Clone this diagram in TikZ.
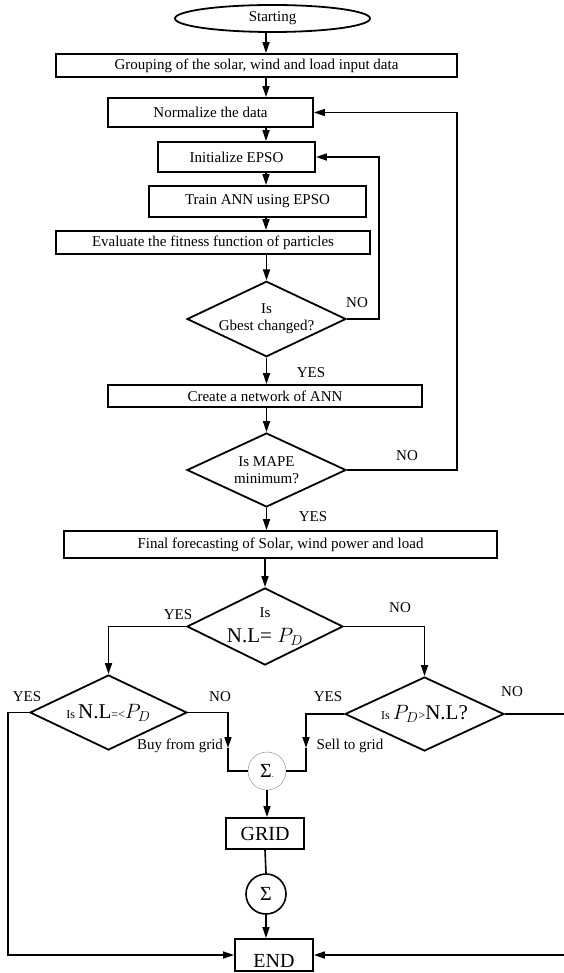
\documentclass[tikz,border=0pt]{standalone}
\usepackage{fontspec}
\setmainfont{Liberation Serif}
\usetikzlibrary{shapes.geometric,arrows.meta}

\begin{document}
\begin{tikzpicture}[x=1pt,y=-1pt,font=\fontsize{15}{17}\selectfont,
  box/.style={draw,line width=1.8pt,inner sep=0pt},
  decision/.style={diamond,draw,line width=1.8pt,aspect=2.1,inner sep=0pt,align=center},
  sumnode/.style={circle,draw,inner sep=0pt,font=\fontsize{20}{20}\selectfont},
  arr/.style={line width=1.6pt,-{Triangle[length=11pt,width=7pt]}},
  ln/.style={line width=1.6pt}]
\useasboundingbox (0,0) rectangle (564,973);
\coordinate (ax) at (266,0);
\coordinate (rt1) at (457,0);
\coordinate (rt2) at (379,0);
\coordinate (lft) at (8,0);
\coordinate (rt3) at (575,0);
\node[ellipse,draw,line width=1.8pt,minimum width=195pt,minimum height=27pt,inner sep=0pt] (start) at (272.5,18.5) {Starting};
\node[box,minimum width=401pt,minimum height=23pt] (group) at (256.5,65.5) {Grouping of the solar, wind and load input data};
\node[box,minimum width=205pt,minimum height=29pt] (norm) at (210.5,112.5) {Normalize the data};
\node[box,minimum width=157pt,minimum height=30pt] (init) at (236.5,157) {Initialize EPSO};
\node[box,minimum width=217pt,minimum height=31pt] (train) at (257.5,201.5) {Train ANN using EPSO};
\node[box,minimum width=314pt,minimum height=23pt] (eval) at (213,242.5) {Evaluate the fitness function of particles};
\node[decision,minimum width=159pt,minimum height=74pt] (gbest) at (266.5,319) {Is\\Gbest changed?};
\node[box,minimum width=314pt,minimum height=22pt] (create) at (265,396) {Create a network of ANN};
\node[decision,minimum width=159pt,minimum height=74pt] (mape) at (266.5,470) {Is MAPE\\minimum?};
\node[box,minimum width=433pt,minimum height=27pt] (final) at (280.5,544.5) {Final forecasting of Solar, wind power and load};
\node[decision,minimum width=156pt,minimum height=77pt,font=\fontsize{15}{25}\selectfont] (nl) at (265,626.5) {Is\\{\fontsize{21}{21}\selectfont N.L= $P_D$}};
\node[decision,minimum width=157pt,minimum height=75pt] (lower) at (108.5,712.5) {{\fontsize{12}{12}\selectfont Is }{\fontsize{21}{21}\selectfont N.L}{\fontsize{12}{12}\selectfont =<}{\fontsize{21}{21}\selectfont$P_D$}};
\node[decision,minimum width=159pt,minimum height=74pt] (higher) at (424.5,714) {{\fontsize{12}{12}\selectfont Is }{\fontsize{21}{21}\selectfont$P_D$}{\fontsize{12}{12}\selectfont >}{\fontsize{21}{21}\selectfont N.L?}};
\node[sumnode,draw=gray,thin,minimum size=38pt] (sum1) at (267,771) {Σ{\fontsize{8}{8}\selectfont .}};
\node[box,minimum width=78pt,minimum height=31pt,font=\fontsize{20}{20}\selectfont] (grid) at (265,833.5) {GRID};
\node[sumnode,line width=1.6pt,minimum size=40pt] (sum2) at (266,894) {Σ};
\node[box,minimum width=78pt,text height=25pt,text depth=1pt,inner ysep=3pt,font=\fontsize{20}{20}\selectfont] (end) at (274,955) {END};
\node (no1) at (357,303) {NO};
\node (yes1) at (311,373) {YES};
\node (no2) at (407,456) {NO};
\node (yes2) at (313,517) {YES};
\node (yes3) at (178,615) {YES};
\node (no3) at (400,608) {NO};
\node (yes4) at (27,697) {YES};
\node (no4) at (220,697) {NO};
\node (buy) at (180,746) {Buy from grid};
\node (yes5) at (328,697) {YES};
\node (sell) at (350,746) {Sell to grid};
\node (no5) at (512,692) {NO};
\coordinate (bj1) at (228,748);
\coordinate (bj2) at (306,748);
\draw[arr] (start.south -| ax) -- (group.north -| ax);
\draw[arr] (group.south -| ax) -- (norm.north -| ax);
\draw[arr] (norm.south -| ax) -- (init.north -| ax);
\draw[arr] (init.south -| ax) -- (train.north -| ax);
\draw[arr] (train.south -| ax) -- (eval.north -| ax);
\draw[arr] (eval.south -| gbest) -- (gbest.north);
\draw[arr] (gbest.south) -- (gbest.south |- create.north);
\draw[arr] (create.south -| mape) -- (mape.north);
\draw[arr] (mape.south) -- (mape.south |- final.north);
\draw[arr] (final.south -| nl) -- (nl.north);
\draw[arr] (gbest.east) -- (gbest.east -| rt2) |- (init.east);
\draw[arr] (mape.east) -- (mape.east -| rt1) |- (norm.east);
\draw[arr] (nl.west) -| (lower.north);
\draw[arr] (nl.east) -| (higher.north);
\draw[arr] (lower.west) -- (lower.west -| lft) |- (end.west);
\draw[arr] (higher.east) -- (higher.east -| rt3) |- (end.east);
\draw[arr] (lower.east) -| (bj1);
\draw[ln] (bj1) |- (sum1.west);
\draw[arr] (higher.west) -| (bj2);
\draw[ln] (bj2) |- (sum1.east);
\draw[arr] (sum1.south) -- (sum1.south |- grid.north);
\draw[ln] (grid.south) -- (sum2.north);
\draw[arr] (sum2.south) -- (sum2.south |- end.north);
\end{tikzpicture}
\end{document}
